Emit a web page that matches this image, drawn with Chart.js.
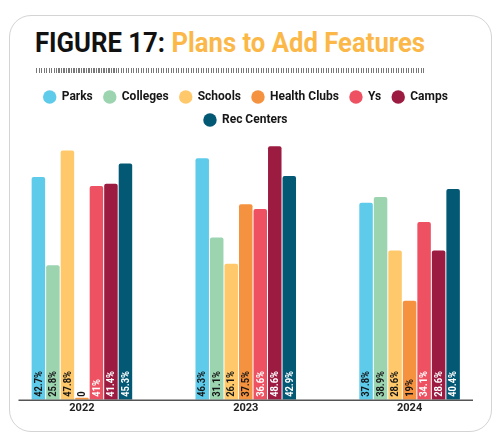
<!DOCTYPE html>
<html>
<head>
<meta charset="utf-8">
<script src="https://cdn.jsdelivr.net/npm/chart.js@4"></script>
<style>
  body { margin: 0; background: #fff; width: 500px; height: 443px; overflow: hidden; position: relative; }
  #card { position: absolute; left: 9px; top: 15px; width: 481px; height: 415px; border: 1.5px solid #d4d4d4; border-radius: 22px; }
  #title { position: absolute; left: 35px; top: 29.5px; font-family: Roboto, sans-serif; font-weight: bold; font-size: 27px; line-height: 27px; color: #111; white-space: nowrap; transform-origin: 0 0; }
  #title span { color: #fbb848; }
  #rule { position: absolute; left: 36px; top: 68px; width: 389px; height: 5px; background: repeating-linear-gradient(90deg, #777 0 1px, #fff 1px 2.5px); }
  #wrap { position: absolute; left: 0; top: 80px; width: 500px; height: 343px; }
</style>
</head>
<body>
<div id="card"></div>
<div id="title">FIGURE 17: <span>Plans to Add Features</span></div>
<div id="rule"></div>
<div id="wrap"><canvas id="chart"></canvas></div>
<script>
// values (percent)
years = ["2022", "2023", "2024"]
parks = [42.7, 46.3, 37.8]
colleges = [25.8, 31.1, 38.9]
schools = [47.8, 26.1, 28.6]
healthClubs = [0, 37.5, 19]
ys = [41, 36.6, 34.1]
camps = [41.4, 48.6, 28.6]
recCenters = [45.3, 42.9, 40.4]

seriesNames = ["Parks", "Colleges", "Schools", "Health Clubs", "Ys", "Camps", "Rec Centers"]
seriesData = [parks, colleges, schools, healthClubs, ys, camps, recCenters]
seriesColors = ["#5ecbeb", "#9cd4b0", "#ffc96b", "#f4923f", "#ee5262", "#9c1b40", "#035874"]
labelColors = ["#161616", "#161616", "#161616", "#161616", "#ffffff", "#ffffff", "#ffffff"]

// squeeze the heading to the narrow width of the original
var title = document.getElementById("title")
title.style.transform = "scaleX(" + (390 / title.offsetWidth) + ")"

// a few px more room under the legend
var legendGap = {
	id: "legendGap",
	beforeInit(chart) {
		var fit = chart.legend.fit
		chart.legend.fit = function () {
			fit.bind(chart.legend)()
			this.height += 3
		}
	}
}

// labels written up the foot of each bar, plus the short baseline
var barLabels = {
	id: "barLabels",
	afterDatasetsDraw(chart) {
		var ctx = chart.ctx
		var area = chart.chartArea
		ctx.save()
		ctx.strokeStyle = "#555"
		ctx.lineWidth = 1.5
		ctx.beginPath()
		ctx.moveTo(area.left + 18.5, area.bottom + 0.5)
		ctx.lineTo(area.right - 18.5, area.bottom + 0.5)
		ctx.stroke()
		ctx.font = "bold 11px Roboto, sans-serif"
		ctx.textAlign = "left"
		ctx.textBaseline = "middle"
		chart.data.datasets.forEach(function (ds, i) {
			var meta = chart.getDatasetMeta(i)
			meta.data.forEach(function (bar, j) {
				var v = ds.data[j]
				var txt = v === 0 ? "0" : v + "%"
				ctx.save()
				ctx.translate(bar.x + 0.5, bar.base - 3)
				ctx.rotate(-Math.PI / 2)
				ctx.scale(0.85, 1)
				ctx.fillStyle = v === 0 ? "#161616" : labelColors[i]
				ctx.fillText(txt, 0, 0)
				ctx.restore()
			})
		})
		ctx.restore()
	}
}

var datasets = seriesNames.map(function (name, i) {
	return {
		label: name,
		data: seriesData[i],
		backgroundColor: seriesColors[i],
		borderRadius: {topLeft: 2, topRight: 2},
		borderSkipped: "bottom",
		minBarLength: 2,
		categoryPercentage: 0.62,
		barPercentage: 0.93
	}
})

new Chart(document.getElementById("chart"), {
	type: "bar",
	data: {labels: years, datasets: datasets},
	options: {
		responsive: true,
		maintainAspectRatio: false,
		animation: false,
		layout: {padding: {left: 0, right: 8.5, top: 0, bottom: 6}},
		plugins: {
			legend: {
				position: "top",
				labels: {
					usePointStyle: true,
					pointStyle: "circle",
					boxWidth: 12,
					boxHeight: 9.5,
					padding: 11,
					color: "#161616",
					font: {family: "Roboto", weight: "bold", size: 12}
				}
			},
			tooltip: {enabled: false}
		},
		scales: {
			x: {
				grid: {display: false, drawTicks: false},
				border: {display: false},
				ticks: {color: "#222", font: {family: "Roboto", weight: "bold", size: 11}, padding: 2}
			},
			y: {display: false, min: 0, max: 50}
		}
	},
	plugins: [legendGap, barLabels]
})
</script>
</body>
</html>
